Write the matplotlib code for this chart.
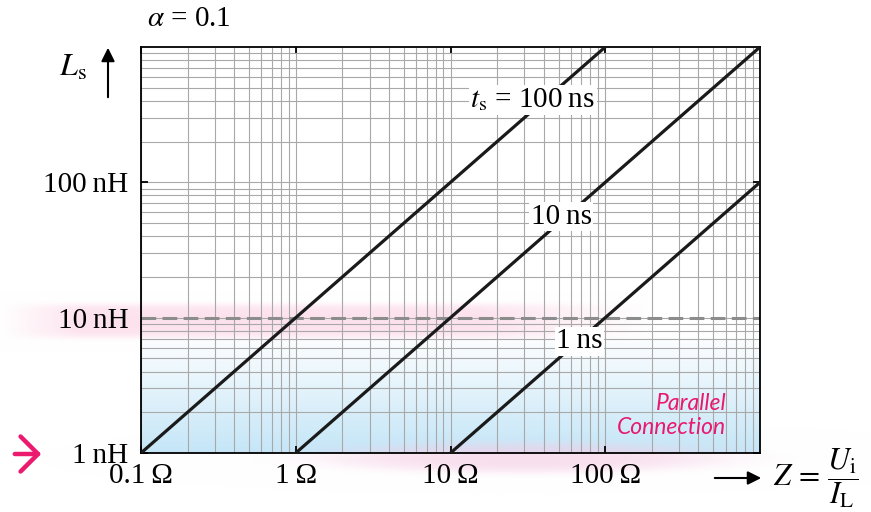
import numpy as np
import matplotlib
matplotlib.use("Agg")
from matplotlib import pyplot as plt
from matplotlib.ticker import NullFormatter

plt.rcParams['font.family'] = ['Liberation Serif', 'DejaVu Serif']
plt.rcParams['mathtext.fontset'] = 'stix'

W, H = 871, 512

# axis ticks
x_ticks = [0.1, 1, 10, 100]
x_tick_labels = ['0.1\u2009Ω', '1\u2009Ω', '10\u2009Ω', '100\u2009Ω']
y_ticks = [1, 10, 100]
y_tick_labels = ['1\u2009nH', '10\u2009nH', '100\u2009nH']

# L_s over Z for each rise time t_s (alpha = 0.1), end points
z_1ns = [10, 1000]
l_1ns = [1, 100]
z_10ns = [1, 1000]
l_10ns = [1, 1000]
z_100ns = [0.1, 100]
l_100ns = [1, 1000]

line_labels = ['$t_\\mathrm{s}$ = 100\u2009ns', '10\u2009ns', '1\u2009ns']
label_pos = [(34, 406), (52, 55.5), (68, 6.7)]

limit_l = 10  # dashed limit at 10 nH

fig = plt.figure(figsize=(W / 100, H / 100), dpi=100)
px0, px1, py0, py1 = 141, 760, 47, 453   # plot box in pixels (y from top)

# background: blue gradient + pink highlight glows
bg = fig.add_axes([0, 0, 1, 1], zorder=0)
bg.axis('off')
yy, xx = np.mgrid[0:H, 0:W] + 0.5
img = np.ones((H, W, 3))
blue = np.array([0.77, 0.90, 0.97])
ytop = 333
t = np.clip((yy - ytop) / (py1 - ytop), 0, 1)
inside = (xx >= px0) & (xx <= px1) & (yy >= ytop) & (yy <= py1)
img[inside] = (1 - t[inside][:, None]) + t[inside][:, None] * blue

pink = np.array([0.99, 0.87, 0.92])
wy = np.exp(-((yy - 321) / 17.0) ** 6)
wx = np.clip(xx / 80.0, 0, 1) * np.clip((650 - xx) / 170.0, 0, 1)
a = 0.85 * wy * wx
img = img * (1 - a[..., None]) + pink * a[..., None]

pink2 = np.array([0.96, 0.81, 0.90])
r2 = ((xx - 525) / 200.0) ** 2 + ((yy - 458) / 15.0) ** 2
a2 = 0.65 * np.exp(-r2 ** 2)
img = img * (1 - a2[..., None]) + pink2 * a2[..., None]

bg.imshow(img, extent=[0, W, H, 0], interpolation='bilinear', aspect='auto')
bg.set_xlim(0, W)
bg.set_ylim(H, 0)

ax = fig.add_axes([px0 / W, 1 - py1 / H, (px1 - px0) / W, (py1 - py0) / H], zorder=1)
ax.patch.set_alpha(0)
ax.set_xscale('log')
ax.set_yscale('log')
ax.set_xlim(0.1, 1000)
ax.set_ylim(1, 1000)

ax.set_axisbelow(True)
ax.grid(which='both', color='#a8a8a8', lw=0.8)

ax.axhline(limit_l, color='#8c8c8c', lw=2.2, dashes=(4.8, 2.1), zorder=2)

for z, l in [(z_1ns, l_1ns), (z_10ns, l_10ns), (z_100ns, l_100ns)]:
    ax.plot(z, l, color='#1a1a1a', lw=2.3, solid_capstyle='butt', zorder=3)

for txt, (xp, yp) in zip(line_labels, label_pos):
    ax.text(xp, yp, txt, ha='center', va='center', fontsize=21, zorder=4,
            bbox=dict(facecolor='white', edgecolor='none', pad=1.0))

ax.set_xticks(x_ticks, x_tick_labels)
ax.set_yticks(y_ticks, y_tick_labels)
ax.xaxis.set_minor_formatter(NullFormatter())
ax.yaxis.set_minor_formatter(NullFormatter())
ax.tick_params(which='major', direction='in', length=5, width=1.3,
               top=True, right=True, labelsize=21)
ax.tick_params(axis='x', pad=7)
ax.tick_params(axis='y', pad=9)
ax.tick_params(which='minor', length=0)
for s in ax.spines.values():
    s.set_linewidth(1.3)

def fpos(x, y):
    return (x / W, 1 - y / H)

fig.text(*fpos(189, 19), '$\\alpha$ = 0.1', fontsize=21, ha='center', va='center')
fig.text(*fpos(73, 68), '$L_\\mathrm{s}$', fontsize=23, ha='center', va='center')
ax.annotate('', xy=fpos(108, 45), xytext=fpos(108, 100), xycoords='figure fraction',
            textcoords='figure fraction', annotation_clip=False,
            arrowprops=dict(arrowstyle='-|>', color='black', lw=1.5, mutation_scale=20))
ax.annotate('', xy=fpos(764, 478), xytext=fpos(712, 478), xycoords='figure fraction',
            textcoords='figure fraction', annotation_clip=False,
            arrowprops=dict(arrowstyle='-|>', color='black', lw=1.5, mutation_scale=20))
fig.text(*fpos(773, 478), '$Z\\,=\\,\\dfrac{U_\\mathrm{i}}{I_\\mathrm{L}}$', fontsize=22,
         ha='left', va='center')

fig.text(*fpos(726, 404), 'Parallel', family='Lato', style='italic',
         color='#e8196e', fontsize=16.5, ha='right', va='center')
fig.text(*fpos(726, 427), 'Connection', family='Lato', style='italic',
         color='#e8196e', fontsize=16.5, ha='right', va='center')
ax.annotate('', xy=fpos(44, 454), xytext=fpos(12, 454), xycoords='figure fraction',
            textcoords='figure fraction', annotation_clip=False,
            arrowprops=dict(arrowstyle='->,head_length=0.45,head_width=0.45',
                            color='#ec1a6e', lw=3.2, mutation_scale=28))

fig.savefig('out.png', dpi=100)
